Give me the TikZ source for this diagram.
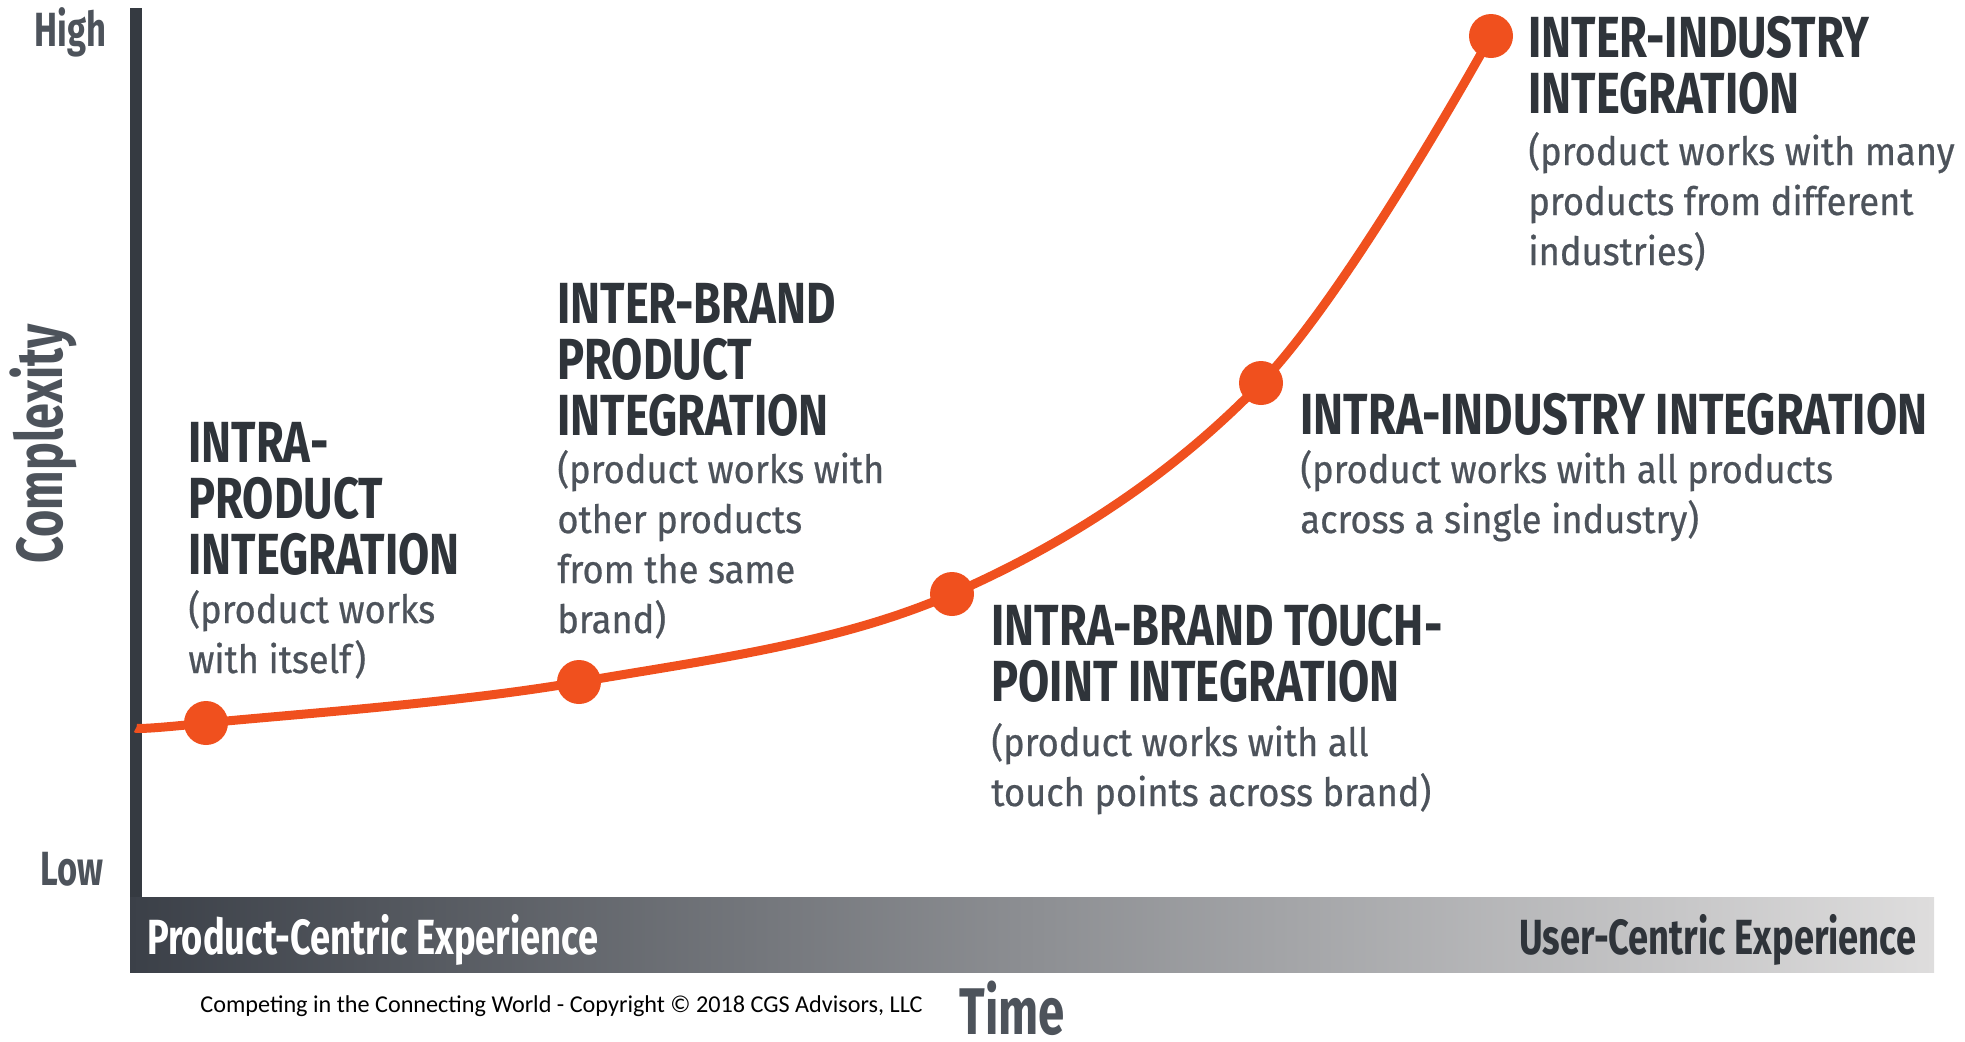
\documentclass[tikz,border=0pt]{standalone}
\usepackage{fontspec}
\setmainfont{Fira Sans}
\newfontfamily\headfont[FakeStretch=0.78]{Fira Sans}
\newfontfamily\subfont[FakeStretch=0.93,FakeBold=0.6]{Fira Sans}
\newfontfamily\labelfont[FakeStretch=0.72]{Fira Sans}
\newfontfamily\bandfont[FakeStretch=0.735]{Fira Sans}
\newfontfamily\notefont{Carlito}
\usetikzlibrary{positioning}
\definecolor{curveorange}{HTML}{F0501E}
\definecolor{headgray}{HTML}{2F343A}
\definecolor{subgray}{HTML}{4D535B}
\definecolor{axisgray}{HTML}{353A41}
\definecolor{bandleft}{HTML}{3B4048}
\definecolor{bandmid}{HTML}{76777C}
\definecolor{bandright}{HTML}{DEDDDD}
\tikzset{
	headtext/.style={font=\headfont\bfseries\fontsize{29}{28}\selectfont\color{headgray},
		align=left, anchor=base west, inner sep=0pt}
}
\tikzset{
	subtext/.style={font=\subfont\fontsize{19.5}{25}\selectfont\color{subgray},
		align=left, anchor=base west, inner sep=0pt}
}
\tikzset{
	axislabel/.style={font=\labelfont\bfseries\fontsize{24}{26}\selectfont\color{subgray}, inner sep=0pt}
}

\begin{document}
\begin{tikzpicture}[x=0.5pt,y=-0.5pt]
	\tikzset{
		dotnode/.style={
				shape=circle,
				fill=curveorange,
				minimum size=22pt,
				inner sep=0pt
			}
	}
	\useasboundingbox (0,0) rectangle (1965,1041);

	% axes
	\fill[axisgray] (130,8) rectangle (142,897);
	\shade[left color=bandleft, middle color=bandmid, right color=bandright] (130,897) rectangle (1934,972);

	\node[axislabel, anchor=base east] (high) at (107,46) {High};
	\node[axislabel, anchor=base east] (low) at (104,885) {Low};
	\node[axislabel, font=\labelfont\bfseries\fontsize{32.5}{34}\selectfont\color{subgray}, rotate=90, anchor=base] (complexity) at (62,444) {Complexity};
	\node[axislabel, font=\bandfont\bfseries\fontsize{24.7}{26}\selectfont\color{white}, anchor=base west] (prodexp) at (147,954) {Product-Centric Experience};
	\node[axislabel, font=\bandfont\bfseries\fontsize{24.7}{26}\selectfont\color{headgray}, anchor=base east] (userexp) at (1917,954) {User-Centric Experience};
	\node[axislabel, font=\labelfont\bfseries\fontsize{33}{34}\selectfont\color{subgray}, anchor=base west] (time) at (959,1034) {Time};
	\node[font=\notefont\fontsize{12.1}{14}\selectfont, anchor=base west, inner sep=0pt] (copyright) at (200,1012) {Competing in the Connecting World - Copyright © 2018 CGS Advisors, LLC};

	% curve
	\coordinate (c0) at (136,728);
	\node[dotnode] (d1) at (206,723) {};
	\node[dotnode] (d2) at (579,682) {};
	\node[dotnode] (d3) at (952,594) {};
	\node[dotnode] (d4) at (1261,383) {};
	\node[dotnode] (d5) at (1491,36) {};
	\draw[curveorange, line width=4.5pt] plot[smooth, tension=0.6] coordinates {(c0) (d1.center) (d2.center) (d3.center) (d4.center) (d5.center)};

	% stages (anchored at the last line)
	\node[headtext] (h1) at (188,574) {INTRA-\\PRODUCT\\INTEGRATION};
	\node[subtext] (s1) at (188,673) {(product works\\with itself)};

	\node[headtext] (h2) at (557,435) {INTER-BRAND\\PRODUCT\\INTEGRATION};
	\node[subtext] (s2) at (557,633) {(product works with\\other products\\from the same\\brand)};

	\node[headtext] (h3) at (991,701) {INTRA-BRAND TOUCH-\\POINT INTEGRATION};
	\node[subtext] (s3) at (991,806) {(product works with all\\touch points across brand)};

	\node[headtext] (h4) at (1300,434) {INTRA-INDUSTRY INTEGRATION};
	\node[subtext] (s4) at (1300,533) {(product works with all products\\across a single industry)};

	\node[headtext] (h5) at (1528,113) {INTER-INDUSTRY\\INTEGRATION};
	\node[subtext] (s5) at (1528,265) {(product works with many\\products from different\\industries)};
\end{tikzpicture}
\end{document}
